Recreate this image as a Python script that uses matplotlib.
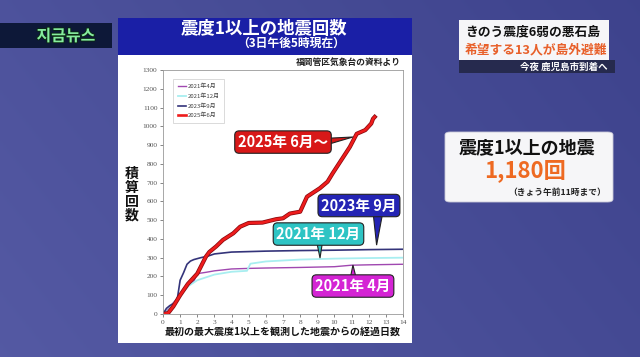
import numpy as np
import matplotlib
matplotlib.use("Agg")
import matplotlib.pyplot as plt
from matplotlib.patches import Rectangle, FancyBboxPatch, Polygon
import matplotlib.patheffects as pe

plt.rcParams['font.family'] = ['Noto Sans CJK JP', 'DejaVu Sans']

# ------------------ data (days since first quake, cumulative count) ------------------
days_2021_04 = [0, 0.3, 0.6, 1.0, 1.4, 1.8, 2.0, 2.5, 3.0, 4.0, 5.0, 6.0, 8.0, 9.0, 10.0, 11.0, 12.0, 14.0]
cnt_2021_04 = [0, 25, 60, 100, 145, 175, 215, 222, 230, 240, 243, 245, 248, 250, 252, 260, 262, 265]

days_2021_12 = [0, 0.3, 0.6, 1.0, 1.5, 2.0, 2.5, 3.0, 4.0, 4.9, 5.1, 6.0, 8.0, 10.0, 12.0, 14.0]
cnt_2021_12 = [0, 20, 55, 100, 150, 180, 195, 210, 225, 230, 268, 280, 290, 295, 298, 300]

days_2023_09 = [0, 0.2, 0.4, 0.7, 0.85, 1.0, 1.2, 1.4, 1.6, 1.8, 2.2, 2.6, 3.0, 4.0, 6.0, 8.0, 10.0, 12.0, 14.0]
cnt_2023_09 = [0, 30, 45, 60, 90, 180, 220, 265, 282, 290, 300, 308, 320, 330, 335, 338, 340, 343, 345]

days_2025_06 = [0, 0.3, 0.6, 1.0, 1.45, 2.0, 2.5, 2.7, 3.1, 3.5, 4.1, 4.5, 5.0, 5.8, 6.6, 7.0, 7.4,
                8.0, 8.4, 9.15, 9.6, 9.9, 10.4, 10.9, 11.3, 11.8, 12.15, 12.25, 12.35]
cnt_2025_06 = [0, 5, 40, 100, 160, 215, 305, 330, 360, 395, 430, 465, 485, 487, 505, 510, 535,
               545, 625, 670, 705, 750, 820, 890, 960, 980, 1015, 1040, 1050]

legend_labels = ["2021年4月", "2021年12月", "2023年9月", "2025年6月"]
y_ticks = list(range(0, 1301, 100))
x_ticks = list(range(0, 15))

W, H = 640, 357


def fx(px):
    return px / W


def fy(py):
    return 1 - py / H


fig = plt.figure(figsize=(6.4, 3.57), dpi=100)

# ------------------ background ------------------
bg = fig.add_axes([0, 0, 1, 1])
gx = np.linspace(0, 1, 200)
gy = np.linspace(0, 1, 120)
X, Y = np.meshgrid(gx, gy)
base = np.array([0.33, 0.35, 0.64])
dark = np.array([0.22, 0.24, 0.53])
t = 0.55 * X + 0.25 * (1 - Y)
img = base[None, None, :] * (1 - t[..., None]) + dark[None, None, :] * t[..., None]
bg.imshow(img, extent=[0, 1, 0, 1], aspect="auto", origin="upper")
bg.set_xlim(0, 1)
bg.set_ylim(0, 1)
bg.axis("off")


def rect(x0, y0, x1, y1, color, **kw):
    fig.patches.append(Rectangle((fx(x0), fy(y1)), fx(x1) - fx(x0), fy(y0) - fy(y1),
                                 transform=fig.transFigure, facecolor=color, edgecolor="none", **kw))


def rbox(x0, y0, x1, y1, color):
    fig.patches.append(FancyBboxPatch((fx(x0), fy(y1)), fx(x1) - fx(x0), fy(y0) - fy(y1),
                                      boxstyle="round,pad=0,rounding_size=0.008",
                                      transform=fig.transFigure, facecolor=color,
                                      edgecolor="#c8c8d8", lw=0.6))


# white chart panel + title band
rect(118, 18, 412, 343, "#ffffff")
rect(118, 18, 412, 55, "#1a1fa6")
fig.text(fx(264), fy(29), "震度1以上の地震回数", color="white", fontsize=12.5,
         fontweight="bold", ha="center", va="center")
fig.text(fx(291), fy(43), "（3日午後5時現在）", color="white", fontsize=8.5,
         fontweight="bold", ha="center", va="center")
fig.text(fx(401), fy(62), "福岡管区気象台の資料より", color="#222222", fontsize=6.3,
         fontweight="bold", ha="right", va="center")

# 지금뉴스 tag
rect(0, 23, 112, 48, "#0d1838")
fig.text(fx(66), fy(36), "지금뉴스", color="#86eca0", fontsize=11.5, fontweight="bold",
         ha="center", va="center", family=["Noto Sans CJK KR", "DejaVu Sans"],
         path_effects=[pe.withStroke(linewidth=1.2, foreground="#0a2a10")])

# top right headline
rect(459, 20, 609, 60, "#f6f6f8")
rect(459, 60, 615, 73, "#262a4e")
fig.text(fx(465), fy(32), "きのう震度6弱の悪石島", color="#111111", fontsize=9.2,
         fontweight="bold", ha="left", va="center")
fig.text(fx(465), fy(50), "希望する13人が島外避難", color="#e8602a", fontsize=9.2,
         fontweight="bold", ha="left", va="center")
fig.text(fx(608), fy(67), "今夜 鹿児島市到着へ", color="white", fontsize=6.8,
         fontweight="bold", ha="right", va="center")

# right info box
rbox(445, 132, 613, 202, "#f6f6f8")
fig.text(fx(527), fy(148), "震度1以上の地震", color="#111111", fontsize=13,
         fontweight="bold", ha="center", va="center")
fig.text(fx(525), fy(171), "1,180回", color="#ee6a22", fontsize=16,
         fontweight="bold", ha="center", va="center")
fig.text(fx(557), fy(192), "（きょう午前11時まで）", color="#222222", fontsize=6.3,
         fontweight="bold", ha="center", va="center")

# ------------------ chart ------------------
ax = fig.add_axes([fx(163), fy(314), fx(403) - fx(163), fy(70) - fy(314)])
ax.set_zorder(5)
ax.set_facecolor("white")

ax.plot(days_2021_04, cnt_2021_04, color="#a048b0", lw=1.0, label=legend_labels[0])
ax.plot(days_2021_12, cnt_2021_12, color="#a8eef0", lw=1.3, label=legend_labels[1])
ax.plot(days_2023_09, cnt_2023_09, color="#34347a", lw=1.2, label=legend_labels[2])
ax.plot(days_2025_06, cnt_2025_06, color="#8a0a10", lw=3.0, solid_joinstyle="round")
ax.plot(days_2025_06, cnt_2025_06, color="#ee1c1c", lw=1.9, label=legend_labels[3],
        solid_joinstyle="round")

ax.set_xlim(0, 14)
ax.set_ylim(0, 1300)
ax.set_xticks(x_ticks)
ax.set_yticks(y_ticks)
ax.tick_params(labelsize=5.3, colors="#555555", length=2, width=0.5, pad=2)
for lab in ax.get_xticklabels() + ax.get_yticklabels():
    lab.set_family("Liberation Serif")
for s in ax.spines.values():
    s.set_color("#999999")
    s.set_linewidth(0.6)

leg = ax.legend(loc="upper left", bbox_to_anchor=(0.03, 0.975), fontsize=4.3,
                handlelength=1.3, handletextpad=0.3, labelspacing=0.7, borderpad=0.8,
                fancybox=False, edgecolor="#cccccc", framealpha=1)
leg.get_frame().set_linewidth(0.5)
for txt in leg.get_texts():
    txt.set_color("#444444")

# callout labels: text, colour, box centre, pointer triangle (base1, base2, tip)
callouts = [
    ("2025年 6月～", "#d81818", (7.0, 916), [(9.3, 935), (9.3, 895), (11.08, 943)]),
    ("2023年 9月", "#2424b4", (11.43, 578), [(12.25, 545), (12.83, 545), (12.46, 367)]),
    ("2021年 12月", "#2ec4c4", (9.07, 426), [(8.93, 400), (9.33, 400), (9.16, 298)]),
    ("2021年 4月", "#d424d4", (11.08, 149), [(10.9, 180), (11.3, 180), (11.08, 261)]),
]
for text, col, pos, tri in callouts:
    ax.add_patch(Polygon(tri, closed=True, fc=col, ec="#222222", lw=0.8, zorder=6))
    ax.text(pos[0], pos[1], text, ha="center", va="center", color="white",
            fontsize=10.5, fontweight="bold", zorder=7,
            bbox=dict(boxstyle="round,pad=0.22,rounding_size=0.3", fc=col, ec="#222222", lw=0.8))

fig.text(fx(132), fy(195), "積\n算\n回\n数", color="#111111", fontsize=10,
         fontweight="bold", ha="center", va="center", linespacing=1.0)
fig.text(fx(283), fy(332), "最初の最大震度1以上を観測した地震からの経過日数", color="#111111",
         fontsize=7.2, fontweight="bold", ha="center", va="center")

fig.savefig("out.png", dpi=100)
